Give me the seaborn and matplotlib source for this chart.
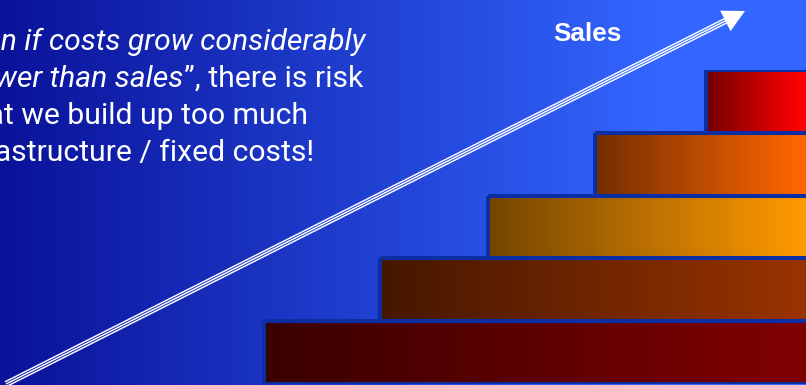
import numpy as np
import matplotlib
matplotlib.use("Agg")
import matplotlib.pyplot as plt
import seaborn as sns
import pandas as pd
from matplotlib.colors import to_rgb

# ---------------- data ----------------
layers = ["Layer 5", "Layer 4", "Layer 3", "Layer 2", "Layer 1"]   # top -> bottom
layer_start = [706, 595, 488, 380, 264]
layer_end = [830, 830, 830, 830, 830]
layer_colors = ["#ff0000", "#ff6600", "#ff9900", "#993300", "#800000"]
sales_label = "Sales"
arrow_start = (6, 384)
arrow_tip = (745, 11)
line1 = "\u201cEven if costs grow considerably"
line2_italic = "slower than sales"
line2_regular = "\u201d, there is risk"
line3 = "that we build up too much"
line4 = "infrastructure / fixed costs!"
line_right = [365, 363, 308, 314]
line_base = [50, 87, 124, 161]

W, H = 806, 385
sns.set_style("white")
plt.rcParams['font.family'] = ['Roboto', 'DejaVu Sans']

fig = plt.figure(figsize=(W / 100, H / 100), dpi=100)

# background
bg = fig.add_axes([0, 0, 1, 1])
bg.set_xlim(0, W)
bg.set_ylim(H, 0)
bg.axis("off")
c0 = np.array(to_rgb("#0a1299"))
c1 = np.array(to_rgb("#3366ff"))
t = np.clip(np.linspace(0, 1, 400) / 0.82, 0, 1)
grad = c0[None, :] * (1 - t[:, None]) + c1[None, :] * t[:, None]
bg.imshow(grad[None, :, :], extent=[0, W, H, 0], aspect="auto", zorder=0)
bg.set_xlim(0, W)
bg.set_ylim(H, 0)

# bars
top_px, bot_px = 70, 384
axb = fig.add_axes([0, 1 - bot_px / H, 1, (bot_px - top_px) / H])
axb.set_zorder(2)
axb.patch.set_alpha(0)
df = pd.DataFrame({"layer": layers,
                   "width": np.array(layer_end) - np.array(layer_start),
                   "start": layer_start})
sns.barplot(data=df, x="width", y="layer", order=layers, left=df["start"].values,
            width=1.0, color="#800000", saturation=1, errorbar=None,
            edgecolor="#0b2fa3", linewidth=2.9, ax=axb)
for patch, col in zip(axb.patches, layer_colors):
    x0, y0 = patch.get_x(), patch.get_y()
    w, h = patch.get_width(), patch.get_height()
    full = np.array(to_rgb(col))
    dark = full * 0.45
    xs = np.linspace(x0, x0 + w, 300)
    tt = np.clip((xs - x0) / (800 - x0), 0, 1)
    g = dark[None, :] * (1 - tt[:, None]) + full[None, :] * tt[:, None]
    im = axb.imshow(g[None, :, :], extent=[x0, x0 + w, y0 + h, y0],
                    aspect="auto", zorder=1)
    im.set_clip_path(patch)
    patch.set_facecolor("none")
    patch.set_zorder(3)
axb.set_xlim(0, W)
axb.set_ylim(len(layers) - 0.5, -0.5)
axb.axis("off")

# arrow
p0 = np.array(arrow_start, float)
p1 = np.array(arrow_tip, float)
d = (p1 - p0) / np.linalg.norm(p1 - p0)
n = np.array([-d[1], d[0]])
head_len, head_half = 22, 11.5
shaft_end = p1 - d * head_len * 0.6
for k in (-1, 0, 1):
    a = p0 + n * k * 2.4
    b = shaft_end + n * k * 2.4
    bg.plot([a[0], b[0]], [a[1], b[1]], color="white", lw=1.05,
            solid_capstyle="butt", zorder=3)
base = p1 - d * head_len
tri = np.array([p1, base + n * head_half, base - n * head_half])
bg.fill(tri[:, 0], tri[:, 1], color="white", zorder=4, lw=0)

# texts
fs = 21.7
bg.text(553, 41, sales_label, color="white", fontsize=18.8, fontweight="bold",
        family=["Liberation Sans", "DejaVu Sans"], va="baseline", ha="left", zorder=5)
bg.text(line_right[0], line_base[0], line1, color="white", fontsize=fs, style="italic",
        va="baseline", ha="right", zorder=5)
t2r = bg.text(line_right[1], line_base[1], line2_regular, color="white", fontsize=fs,
              va="baseline", ha="right", zorder=5)
bg.text(line_right[2], line_base[2], line3, color="white", fontsize=fs,
        va="baseline", ha="right", zorder=5)
bg.text(line_right[3], line_base[3], line4, color="white", fontsize=fs,
        va="baseline", ha="right", zorder=5)
fig.canvas.draw()
bb = t2r.get_window_extent()
x_start = bg.transData.inverted().transform((bb.x0, bb.y0))[0]
bg.text(x_start, line_base[1], line2_italic, color="white", fontsize=fs, style="italic",
        va="baseline", ha="right", zorder=5)

fig.savefig("out.png", dpi=100)
